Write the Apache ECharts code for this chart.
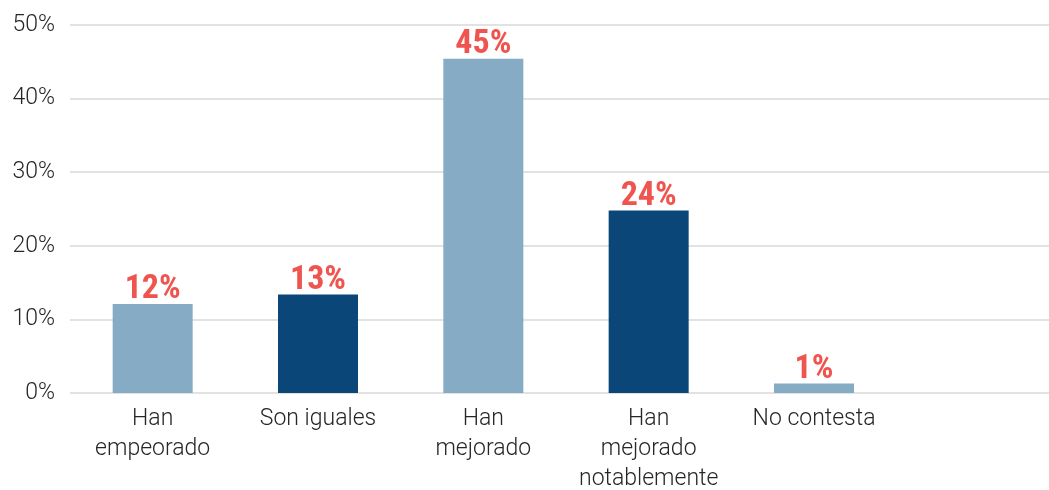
<!DOCTYPE html>
<html>
<head>
<meta charset="utf-8">
<script src="https://cdn.jsdelivr.net/npm/echarts@6/dist/echarts.min.js"></script>
<style>
html,body{margin:0;padding:0;background:#fff;}
#chart{width:1049px;height:490px;}
</style>
</head>
<body>
<div id="chart"></div>
<script>
const categories = ["Han\nempeorado", "Son iguales", "Han\nmejorado", "Han\nmejorado\nnotablemente", "No contesta", ""];
const values = [12.1, 13.4, 45.4, 24.8, 1.3, null];
const barColors = ["#86acc5", "#0b4678", "#86acc5", "#0b4678", "#86acc5", "#86acc5"];
const yTicks = [0, 10, 20, 30, 40, 50];

const chart = echarts.init(document.getElementById('chart'));
chart.setOption({
  animation: false,
  grid: { left: 70, width: 992, top: 25, bottom: 97, containLabel: false, outerBoundsMode: 'none' },
  xAxis: {
    type: 'category',
    data: categories,
    axisLine: { show: false },
    axisTick: { show: false },
    axisLabel: {
      interval: 0,
      color: '#262626',
      fontFamily: 'Roboto',
      fontWeight: 300,
      fontSize: 23,
      lineHeight: 30,
      margin: 11
    }
  },
  yAxis: {
    type: 'value',
    min: yTicks[0],
    max: yTicks[yTicks.length - 1],
    interval: 10,
    axisLine: { show: false },
    axisTick: { show: false },
    splitLine: { lineStyle: { color: '#d9d9d9', width: 1.5 } },
    axisLabel: {
      color: '#262626',
      fontFamily: 'Roboto',
      fontWeight: 300,
      fontSize: 23,
      margin: 15,
      formatter: v => v + '%'
    }
  },
  series: [{
    type: 'bar',
    barWidth: 80,
    data: values.map((v, i) => ({ value: v, itemStyle: { color: barColors[i] } })),
    label: {
      show: true,
      position: 'top',
      distance: -3,
      color: '#f0544f',
      fontFamily: "'Liberation Sans Narrow', 'Roboto Condensed', Roboto",
      fontWeight: 'bold',
      fontSize: 34,
      formatter: p => Math.floor(p.value) + '%'
    }
  }]
});
</script>
</body>
</html>
